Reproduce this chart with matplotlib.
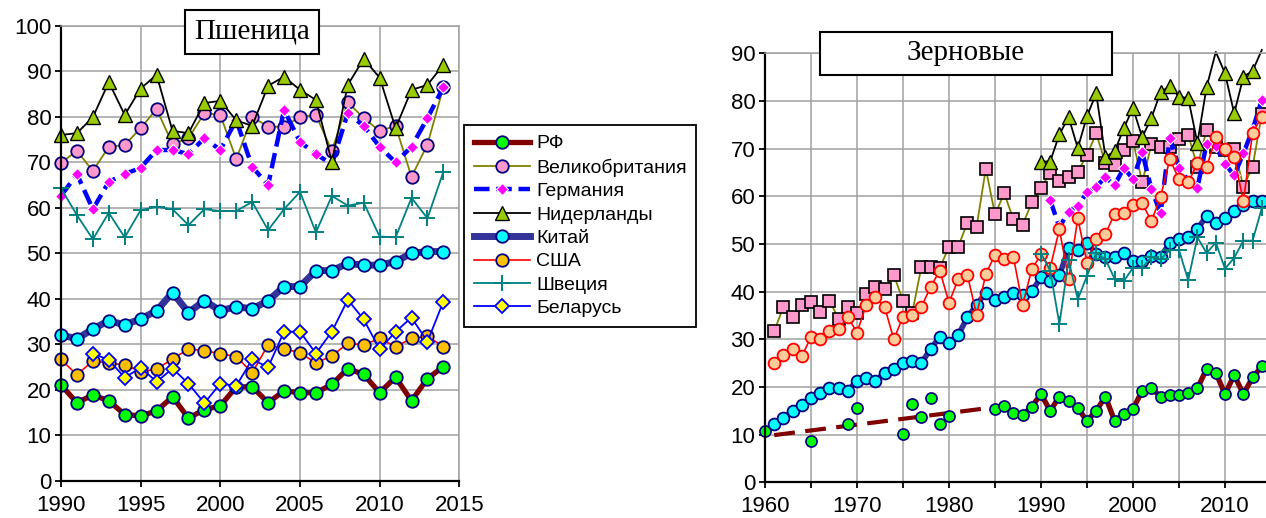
import matplotlib
matplotlib.use('Agg')
from matplotlib import pyplot as plt
from matplotlib.patches import Rectangle

plt.rcParams['font.family'] = ['Liberation Sans', 'DejaVu Sans']

# ---- Пшеница, 1990-2014 ----
w_years = list(range(1990, 2015))
w_ru = [21.1, 17.2, 18.9, 17.6, 14.6, 14.3, 15.4, 18.5, 13.8, 15.7, 16.5, 20.7, 20.7,
        17.2, 19.8, 19.4, 19.4, 21.2, 24.7, 23.4, 19.4, 22.8, 17.6, 22.5, 25.1]
w_uk = [69.9, 72.5, 68.1, 73.4, 73.8, 77.5, 81.7, 74.0, 75.3, 80.8, 80.4, 70.7, 80.0,
        77.8, 77.8, 80.0, 80.4, 72.5, 83.2, 79.7, 76.9, 78.0, 66.8, 73.9, 86.5]
w_de = [62.6, 67.4, 59.7, 65.7, 67.4, 68.8, 72.7, 72.7, 71.8, 75.3, 72.7, 79.3, 69.0,
        65.0, 81.5, 74.5, 71.8, 69.6, 80.8, 78.0, 73.4, 70.0, 73.4, 79.7, 86.5]
w_nl = [76.0, 76.4, 79.9, 87.6, 80.4, 86.2, 89.2, 76.9, 76.4, 83.0, 83.5, 79.2, 78.0,
        86.8, 88.8, 85.9, 83.7, 70.1, 87.0, 92.7, 88.6, 77.5, 85.9, 87.0, 91.4]
w_cn = [32.1, 31.2, 33.4, 35.2, 34.3, 35.6, 37.4, 41.4, 37.0, 39.6, 37.4, 38.3, 37.8,
        39.6, 42.7, 42.7, 46.2, 46.2, 47.8, 47.4, 47.4, 48.2, 50.0, 50.4, 50.4]
w_us = [26.7, 23.3, 26.4, 25.9, 25.5, 24.0, 24.6, 26.8, 29.0, 28.6, 28.0, 27.3, 23.8,
        29.9, 29.0, 28.2, 25.9, 27.5, 30.2, 29.9, 31.3, 29.5, 31.3, 31.8, 29.5]
w_se = [64.3, 58.4, 53.1, 58.9, 53.5, 59.5, 60.2, 59.7, 56.2, 59.7, 59.3, 59.3, 61.3,
        55.1, 59.7, 63.5, 54.6, 62.6, 60.5, 61.1, 53.7, 53.5, 62.2, 57.7, 67.9]
by_years = list(range(1992, 2015))
w_by = [28.0, 26.6, 22.7, 24.9, 21.8, 24.7, 21.4, 17.1, 21.4, 20.9, 26.7, 25.0,
        32.8, 32.8, 28.0, 32.8, 39.8, 35.5, 28.9, 32.8, 35.9, 30.6, 39.4]

# ---- Зерновые ----
g_years = list(range(1961, 2015))
g_uk = [31.7, 36.8, 34.7, 37.3, 37.8, 35.7, 38.1, 34.3, 36.8, 35.6, 39.5, 41.0, 40.5,
        43.5, 38.1, 35.5, 45.2, 45.2, 45.0, 49.4, 49.4, 54.5, 53.6, 65.8, 56.2, 60.6,
        55.2, 54.0, 58.7, 61.8, 64.9, 63.2, 64.1, 65.2, 68.7, 73.2, 66.9, 66.6, 69.7,
        71.7, 62.9, 70.9, 70.3, 70.3, 72.0, 72.9, 66.2, 74.0, 70.3, 69.7, 69.9, 62.0,
        66.2, 77.2]
g_us = [25.1, 26.7, 28.0, 26.4, 30.5, 30.0, 31.8, 32.2, 34.7, 31.4, 37.2, 38.9, 36.8,
        30.0, 34.7, 35.1, 36.8, 41.0, 44.4, 37.7, 42.6, 43.5, 35.1, 43.7, 47.7, 46.8,
        47.3, 37.2, 44.7, 47.8, 45.0, 53.1, 42.6, 55.4, 46.1, 51.0, 52.1, 56.3, 56.6,
        58.2, 58.5, 54.8, 59.9, 67.8, 63.6, 62.9, 66.9, 66.1, 72.4, 69.9, 68.2, 59.0,
        73.3, 76.7]
g_cn = [12.2, 13.4, 15.0, 16.2, 17.6, 18.8, 19.7, 19.7, 19.2, 21.3, 21.8, 21.2, 23.0,
        23.8, 25.1, 25.5, 25.0, 28.0, 30.5, 29.2, 30.9, 34.6, 37.2, 39.8, 38.2, 38.9,
        39.8, 39.2, 40.1, 43.0, 42.2, 43.4, 49.1, 48.7, 50.3, 47.9, 47.2, 47.3, 48.2,
        46.5, 46.5, 47.5, 47.2, 50.3, 51.0, 51.5, 53.1, 55.9, 54.5, 55.4, 56.9, 58.2,
        59.1, 59.1]
de_years = list(range(1991, 2015))
g_de = [59.2, 53.5, 56.8, 58.0, 60.8, 62.0, 64.0, 62.3, 66.0, 63.6, 69.3, 61.5, 56.4,
        72.3, 66.0, 63.3, 61.8, 71.0, 70.5, 66.8, 64.4, 69.0, 74.0, 80.2]
nl_years = list(range(1990, 2015))
g_nl = [67.3, 67.3, 73.0, 76.6, 70.1, 76.8, 81.6, 68.3, 69.4, 74.3, 78.5, 72.4, 76.4,
        81.9, 83.1, 80.9, 80.6, 71.2, 82.9, 90.3, 85.8, 77.4, 85.1, 86.3, 90.7]
nl_no_marker = [2009, 2014]
se_years = list(range(1990, 2015))
g_se = [48.0, 44.4, 33.2, 46.6, 38.4, 43.3, 48.1, 46.8, 42.7, 42.2, 45.0, 45.0, 47.2,
        46.8, 48.7, 48.7, 42.4, 51.4, 48.1, 50.3, 44.8, 47.1, 50.7, 50.7, 57.5]
ru_early_years = [1960, 1965, 1969, 1970, 1975, 1976, 1977, 1978, 1979, 1980]
ru_early = [10.8, 8.7, 12.2, 15.5, 10.1, 16.4, 13.8, 17.6, 12.2, 13.9]
ru_years = list(range(1985, 2015))
g_ru = [15.4, 16.0, 14.6, 14.1, 15.9, 18.5, 15.0, 18.0, 17.1, 15.5, 12.9, 15.0, 18.0,
        12.9, 14.3, 15.4, 19.2, 19.7, 18.0, 18.3, 18.3, 18.8, 19.7, 23.8, 23.0, 18.5,
        22.5, 18.5, 22.0, 24.3]
ru_trend_years = [1961, 1986]
ru_trend = [9.9, 16.0]

grid_c = '#a0a0a0'
navy = '#000080'

fig = plt.figure(figsize=(12.66, 5.18), dpi=100)
W, H = 1266, 518


def style_axes(ax):
    ax.grid(True, color=grid_c, lw=1.1)
    ax.set_axisbelow(True)
    for s in ['top', 'right']:
        ax.spines[s].set_color(grid_c)
        ax.spines[s].set_linewidth(1.1)
    for s in ['left', 'bottom']:
        ax.spines[s].set_color('black')
        ax.spines[s].set_linewidth(1.6)
    ax.tick_params(direction='out', length=4, width=1.3, labelsize=16, pad=3)
    ax.tick_params(axis='x', pad=6)
    for ln in ax.get_lines():
        ln.set_clip_on(False)


# left chart
ax1 = fig.add_axes([61 / W, 37 / H, 398.3 / W, 455.3 / H])
ax1.plot(w_years, w_ru, color='#800000', lw=3.8, marker='o', ms=9, mfc='#00ff00',
         mec=navy, mew=1.3, label='РФ')
ax1.plot(w_years, w_uk, color='#808000', lw=1.3, marker='o', ms=9, mfc='#ff99cc',
         mec=navy, mew=1.3, label='Великобритания')
ax1.plot(w_years, w_de, color='#0000ff', lw=3.2, ls=(0, (3.5, 1.5)), marker='D', ms=6,
         mfc='#ff00ff', mec='white', mew=0.8, label='Германия')
ax1.plot(w_years, w_nl, color='black', lw=1.3, marker='^', ms=10, mfc='#99cc00',
         mec='black', mew=1.0, label='Нидерланды')
ax1.plot(w_years, w_cn, color='#333399', lw=5, marker='o', ms=9, mfc='#00ffff',
         mec=navy, mew=1.3, label='Китай')
ax1.plot(w_years, w_us, color='#ff0000', lw=1.2, marker='o', ms=9, mfc='#ffc000',
         mec=navy, mew=1.3, label='США')
ax1.plot(w_years, w_se, color='#008080', lw=1.3, marker='+', ms=12, mew=1.4,
         label='Швеция')
ax1.plot(by_years, w_by, color='#0000ff', lw=1.3, marker='D', ms=7.5, mfc='#ffff00',
         mec='#0000ff', mew=1.3, label='Беларусь')
ax1.set_xlim(1990, 2015)
ax1.set_ylim(0, 100)
ax1.set_xticks(range(1990, 2016, 5))
ax1.set_yticks(range(0, 101, 10))
style_axes(ax1)

# right chart
ax2 = fig.add_axes([765 / W, 35.7 / H, 501 / W, 429 / H])
ax2.plot(ru_trend_years, ru_trend, color='#800000', lw=3, ls=(0, (5, 2.5)))
ax2.plot(ru_early_years, ru_early, ls='none', marker='o', ms=8, mfc='#00ff00',
         mec=navy, mew=1.2)
ax2.plot(ru_years, g_ru, color='#800000', lw=3.8, marker='o', ms=8, mfc='#00ff00',
         mec=navy, mew=1.2)
ax2.plot(g_years, g_uk, color='#808000', lw=1.3, marker='s', ms=8, mfc='#ff99cc',
         mec='black', mew=1.2)
ax2.plot(de_years, g_de, color='#0000ff', lw=3.2, ls=(0, (3.5, 1.5)), marker='D', ms=6,
         mfc='#ff00ff', mec='white', mew=0.8)
nl_marks = [i for i, y in enumerate(nl_years) if y not in nl_no_marker]
ax2.plot(nl_years, g_nl, color='black', lw=1.3, marker='^', ms=10, mfc='#99cc00',
         mec='black', mew=1.0, markevery=nl_marks)
ax2.plot(g_years, g_cn, color='#333399', lw=4, marker='o', ms=8.5, mfc='#00ffff',
         mec=navy, mew=1.3)
ax2.plot(g_years, g_us, color='#ff0000', lw=1.2, marker='o', ms=8.5, mfc='#ffcc99',
         mec='#ff0000', mew=1.3)
ax2.plot(se_years, g_se, color='#008080', lw=1.3, marker='+', ms=12, mew=1.4)
ax2.set_xlim(1960, 1960 + 501 / 9.2)
ax2.set_ylim(0, 90)
ax2.set_xticks(range(1960, 2015, 5))
ax2.set_xticklabels([str(y) if y % 10 == 0 else '' for y in range(1960, 2015, 5)])
ax2.set_yticks(range(0, 91, 10))
style_axes(ax2)
ax2.spines['right'].set_visible(False)

# title boxes
for (x0, y0, x1, y1, txt) in [(185, 10, 319, 54, 'Пшеница'),
                               (820, 32, 1112, 75, 'Зерновые')]:
    fig.add_artist(Rectangle((x0 / W, 1 - y1 / H), (x1 - x0) / W, (y1 - y0) / H,
                             transform=fig.transFigure, fc='white', ec='black',
                             lw=1.5, zorder=10))
    fig.text((x0 + x1) / 2 / W, 1 - (y0 + y1) / 2 / H, txt, ha='center', va='center',
             fontsize=21, family=['Liberation Serif', 'DejaVu Serif'], zorder=11)

leg = fig.legend(*ax1.get_legend_handles_labels(), loc='lower left',
                 bbox_to_anchor=(464 / W, 1 - 327 / H), fontsize=14, numpoints=1,
                 handlelength=2.9, handletextpad=0.3, labelspacing=0.3,
                 borderpad=0.5, fancybox=False, framealpha=1, edgecolor='black',
                 borderaxespad=0)
leg.get_frame().set_linewidth(1.3)

fig.savefig('out.png', dpi=100)
